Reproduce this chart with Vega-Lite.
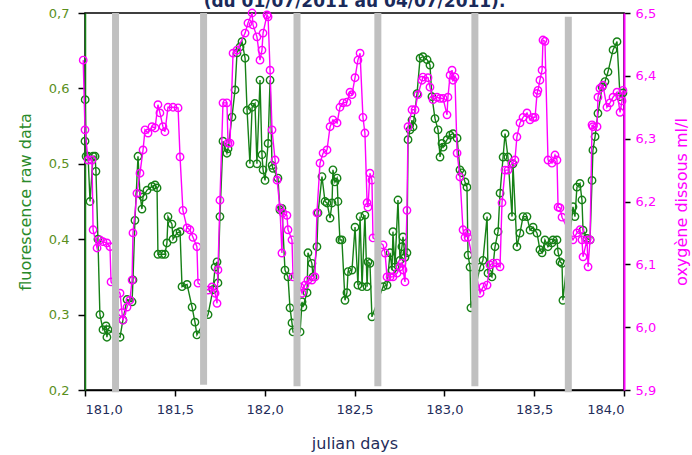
{
  "$schema": "https://vega.github.io/schema/vega-lite/v6.json",
  "width": 539,
  "height": 377,
  "autosize": {"type": "none"},
  "padding": {"left": 85, "top": 13, "right": 68, "bottom": 65},
  "background": "white",
  "title": {
    "text": "(du 01/07/2011 au 04/07/2011).",
    "font": "DejaVu Sans",
    "fontSize": 17,
    "fontWeight": "bold",
    "color": "#1a2a5a",
    "anchor": "middle",
    "baseline": "alphabetic",
    "offset": 0,
    "dy": 18
  },
  "config": {
    "view": {"stroke": "black", "strokeWidth": 1.5},
    "axis": {"grid": false, "labelFont": "DejaVu Sans", "titleFont": "DejaVu Sans", "titleFontWeight": "normal"}
  },
  "datasets": {
    "fluo": [
      {"d":181.000,"v":0.53},{"d":181.001,"v":0.585},{"d":181.006,"v":0.51},{"d":181.017,"v":0.51},{"d":181.028,"v":0.45},{"d":181.045,"v":0.51},{"d":181.056,"v":0.51},{"d":181.061,"v":0.49},{"d":181.072,"v":0.40},{"d":181.083,"v":0.30},{"d":181.100,"v":0.28},{"d":181.117,"v":0.285},{"d":181.122,"v":0.27},{"d":181.128,"v":0.28},
      {"d":181.195,"v":0.27},{"d":181.211,"v":0.293},{"d":181.234,"v":0.32},{"d":181.262,"v":0.317},{"d":181.267,"v":0.346},{"d":181.278,"v":0.425},{"d":181.295,"v":0.51},{"d":181.306,"v":0.46},{"d":181.317,"v":0.44},{"d":181.323,"v":0.456},{"d":181.345,"v":0.465},{"d":181.373,"v":0.47},{"d":181.390,"v":0.472},{"d":181.401,"v":0.468},{"d":181.406,"v":0.38},{"d":181.429,"v":0.38},{"d":181.445,"v":0.38},{"d":181.456,"v":0.395},{"d":181.462,"v":0.43},{"d":181.484,"v":0.42},{"d":181.490,"v":0.40},{"d":181.512,"v":0.408},{"d":181.529,"v":0.41},{"d":181.540,"v":0.337},{"d":181.568,"v":0.34},{"d":181.596,"v":0.31},{"d":181.612,"v":0.29},{"d":181.623,"v":0.273},
      {"d":181.685,"v":0.30},{"d":181.712,"v":0.333},{"d":181.724,"v":0.363},{"d":181.735,"v":0.37},{"d":181.740,"v":0.342},{"d":181.751,"v":0.43},{"d":181.768,"v":0.53},{"d":181.790,"v":0.514},{"d":181.796,"v":0.52},{"d":181.818,"v":0.562},{"d":181.835,"v":0.598},{"d":181.846,"v":0.647},{"d":181.863,"v":0.655},{"d":181.874,"v":0.662},{"d":181.891,"v":0.64},{"d":181.902,"v":0.571},{"d":181.918,"v":0.50},{"d":181.930,"v":0.575},{"d":181.946,"v":0.58},{"d":181.957,"v":0.50},{"d":181.974,"v":0.611},{"d":181.985,"v":0.512},{"d":181.991,"v":0.492},{"d":182.002,"v":0.478},{"d":182.019,"v":0.527},{"d":182.030,"v":0.611},{"d":182.041,"v":0.498},{"d":182.046,"v":0.494},{"d":182.074,"v":0.481},{"d":182.085,"v":0.439},{"d":182.096,"v":0.441},{"d":182.113,"v":0.359},{"d":182.130,"v":0.35},{"d":182.141,"v":0.309},{"d":182.152,"v":0.289},{"d":182.158,"v":0.277},
      {"d":182.197,"v":0.277},{"d":182.208,"v":0.317},{"d":182.213,"v":0.31},{"d":182.236,"v":0.329},{"d":182.241,"v":0.382},{"d":182.263,"v":0.368},{"d":182.269,"v":0.35},{"d":182.291,"v":0.39},{"d":182.297,"v":0.435},{"d":182.319,"v":0.483},{"d":182.336,"v":0.45},{"d":182.347,"v":0.448},{"d":182.364,"v":0.428},{"d":182.375,"v":0.448},{"d":182.380,"v":0.492},{"d":182.391,"v":0.476},{"d":182.403,"v":0.481},{"d":182.408,"v":0.45},{"d":182.419,"v":0.399},{"d":182.430,"v":0.399},{"d":182.447,"v":0.319},{"d":182.458,"v":0.329},{"d":182.464,"v":0.357},{"d":182.486,"v":0.359},{"d":182.503,"v":0.416},{"d":182.519,"v":0.339},{"d":182.531,"v":0.43},{"d":182.542,"v":0.337},{"d":182.558,"v":0.432},{"d":182.570,"v":0.337},{"d":182.575,"v":0.37},{"d":182.586,"v":0.368},{"d":182.597,"v":0.297},
      {"d":182.659,"v":0.337},{"d":182.681,"v":0.339},{"d":182.698,"v":0.382},{"d":182.709,"v":0.359},{"d":182.714,"v":0.41},{"d":182.725,"v":0.363},{"d":182.742,"v":0.452},{"d":182.753,"v":0.372},{"d":182.764,"v":0.39},{"d":182.770,"v":0.403},{"d":182.781,"v":0.376},{"d":182.792,"v":0.382},{"d":182.798,"v":0.532},{"d":182.809,"v":0.545},{"d":182.820,"v":0.558},{"d":182.826,"v":0.549},{"d":182.848,"v":0.593},{"d":182.865,"v":0.64},{"d":182.881,"v":0.642},{"d":182.904,"v":0.638},{"d":182.920,"v":0.631},{"d":182.931,"v":0.589},{"d":182.948,"v":0.56},{"d":182.965,"v":0.545},{"d":182.976,"v":0.509},{"d":182.987,"v":0.527},{"d":182.993,"v":0.522},{"d":183.015,"v":0.532},{"d":183.032,"v":0.538},{"d":183.048,"v":0.54},{"d":183.071,"v":0.534},{"d":183.087,"v":0.492},{"d":183.098,"v":0.488},{"d":183.115,"v":0.476},{"d":183.126,"v":0.469},{"d":183.132,"v":0.379},{"d":183.143,"v":0.363},{"d":183.148,"v":0.309},
      {"d":183.199,"v":0.363},{"d":183.215,"v":0.372},{"d":183.238,"v":0.43},{"d":183.243,"v":0.355},{"d":183.265,"v":0.35},{"d":183.282,"v":0.39},{"d":183.299,"v":0.41},{"d":183.310,"v":0.461},{"d":183.327,"v":0.509},{"d":183.338,"v":0.54},{"d":183.354,"v":0.509},{"d":183.377,"v":0.43},{"d":183.382,"v":0.50},{"d":183.404,"v":0.39},{"d":183.421,"v":0.408},{"d":183.438,"v":0.43},{"d":183.460,"v":0.43},{"d":183.477,"v":0.412},{"d":183.494,"v":0.416},{"d":183.516,"v":0.408},{"d":183.532,"v":0.386},{"d":183.544,"v":0.382},{"d":183.560,"v":0.399},{"d":183.577,"v":0.39},{"d":183.599,"v":0.395},{"d":183.605,"v":0.399},{"d":183.627,"v":0.399},{"d":183.633,"v":0.383},{"d":183.644,"v":0.37},{"d":183.655,"v":0.368},{"d":183.660,"v":0.319},
      {"d":183.716,"v":0.443},{"d":183.727,"v":0.43},{"d":183.738,"v":0.469},{"d":183.755,"v":0.474},{"d":183.766,"v":0.452},{"d":183.772,"v":0.412},{"d":183.794,"v":0.401},{"d":183.811,"v":0.399},{"d":183.822,"v":0.478},{"d":183.827,"v":0.518},{"d":183.839,"v":0.536},{"d":183.855,"v":0.567},{"d":183.878,"v":0.602},{"d":183.894,"v":0.609},{"d":183.911,"v":0.622},{"d":183.939,"v":0.651},{"d":183.961,"v":0.662},{"d":183.978,"v":0.589},{"d":183.994,"v":0.594}
    ],
    "oxy": [
      {"d":180.990,"v":6.425},{"d":181.000,"v":6.314},{"d":181.017,"v":6.266},{"d":181.039,"v":6.266},{"d":181.045,"v":6.155},{"d":181.067,"v":6.126},{"d":181.083,"v":6.139},{"d":181.100,"v":6.136},{"d":181.122,"v":6.134},{"d":181.139,"v":6.128},{"d":181.145,"v":6.072},
      {"d":181.195,"v":6.054},{"d":181.206,"v":6.023},{"d":181.211,"v":6.011},{"d":181.234,"v":6.032},{"d":181.250,"v":6.043},{"d":181.262,"v":6.075},{"d":181.267,"v":6.15},{"d":181.289,"v":6.213},{"d":181.306,"v":6.245},{"d":181.323,"v":6.282},{"d":181.334,"v":6.314},{"d":181.351,"v":6.309},{"d":181.373,"v":6.319},{"d":181.390,"v":6.317},{"d":181.406,"v":6.354},{"d":181.417,"v":6.341},{"d":181.434,"v":6.319},{"d":181.445,"v":6.311},{"d":181.462,"v":6.35},{"d":181.490,"v":6.35},{"d":181.518,"v":6.349},{"d":181.529,"v":6.271},{"d":181.545,"v":6.186},{"d":181.568,"v":6.158},{"d":181.584,"v":6.155},{"d":181.601,"v":6.143},{"d":181.623,"v":6.128},{"d":181.629,"v":6.07},
      {"d":181.685,"v":6.059},{"d":181.707,"v":6.064},{"d":181.724,"v":6.054},{"d":181.735,"v":6.038},{"d":181.740,"v":6.091},{"d":181.751,"v":6.202},{"d":181.768,"v":6.357},{"d":181.790,"v":6.357},{"d":181.796,"v":6.293},{"d":181.807,"v":6.293},{"d":181.824,"v":6.436},{"d":181.846,"v":6.441},{"d":181.891,"v":6.468},{"d":181.907,"v":6.484},{"d":181.930,"v":6.5},{"d":181.935,"v":6.481},{"d":181.957,"v":6.462},{"d":181.974,"v":6.425},{"d":181.985,"v":6.441},{"d":181.991,"v":6.468},{"d":182.013,"v":6.497},{"d":182.019,"v":6.494},{"d":182.030,"v":6.409},{"d":182.041,"v":6.314},{"d":182.058,"v":6.266},{"d":182.069,"v":6.234},{"d":182.085,"v":6.19},{"d":182.096,"v":6.118},{"d":182.102,"v":6.182},{"d":182.124,"v":6.178},{"d":182.130,"v":6.155},{"d":182.152,"v":6.139},{"d":182.158,"v":6.08},
      {"d":182.197,"v":6.064},{"d":182.208,"v":6.054},{"d":182.224,"v":6.067},{"d":182.241,"v":6.075},{"d":182.263,"v":6.075},{"d":182.280,"v":6.08},{"d":182.291,"v":6.182},{"d":182.308,"v":6.261},{"d":182.325,"v":6.277},{"d":182.347,"v":6.282},{"d":182.364,"v":6.319},{"d":182.380,"v":6.33},{"d":182.403,"v":6.325},{"d":182.419,"v":6.35},{"d":182.436,"v":6.357},{"d":182.458,"v":6.358},{"d":182.475,"v":6.374},{"d":182.486,"v":6.37},{"d":182.503,"v":6.397},{"d":182.519,"v":6.425},{"d":182.531,"v":6.436},{"d":182.547,"v":6.334},{"d":182.558,"v":6.309},{"d":182.570,"v":6.198},{"d":182.575,"v":6.191},{"d":182.586,"v":6.245},{"d":182.597,"v":6.234},{"d":182.603,"v":6.142},
      {"d":182.659,"v":6.131},{"d":182.670,"v":6.118},{"d":182.681,"v":6.08},{"d":182.698,"v":6.08},{"d":182.714,"v":6.08},{"d":182.737,"v":6.086},{"d":182.753,"v":6.096},{"d":182.764,"v":6.102},{"d":182.770,"v":6.091},{"d":182.781,"v":6.072},{"d":182.792,"v":6.186},{"d":182.798,"v":6.319},{"d":182.820,"v":6.346},{"d":182.837,"v":6.346},{"d":182.853,"v":6.37},{"d":182.876,"v":6.393},{"d":182.881,"v":6.398},{"d":182.909,"v":6.397},{"d":182.920,"v":6.382},{"d":182.937,"v":6.362},{"d":182.959,"v":6.366},{"d":182.976,"v":6.364},{"d":182.993,"v":6.364},{"d":183.015,"v":6.338},{"d":183.020,"v":6.366},{"d":183.032,"v":6.401},{"d":183.043,"v":6.409},{"d":183.048,"v":6.393},{"d":183.059,"v":6.398},{"d":183.071,"v":6.277},{"d":183.087,"v":6.239},{"d":183.104,"v":6.155},{"d":183.115,"v":6.143},{"d":183.126,"v":6.15},{"d":183.132,"v":6.143},
      {"d":183.199,"v":6.054},{"d":183.215,"v":6.064},{"d":183.238,"v":6.067},{"d":183.254,"v":6.099},{"d":183.271,"v":6.102},{"d":183.293,"v":6.102},{"d":183.310,"v":6.096},{"d":183.321,"v":6.198},{"d":183.338,"v":6.25},{"d":183.354,"v":6.25},{"d":183.377,"v":6.261},{"d":183.393,"v":6.266},{"d":183.404,"v":6.303},{"d":183.421,"v":6.325},{"d":183.438,"v":6.334},{"d":183.460,"v":6.341},{"d":183.477,"v":6.33},{"d":183.494,"v":6.334},{"d":183.505,"v":6.334},{"d":183.516,"v":6.372},{"d":183.521,"v":6.377},{"d":183.532,"v":6.393},{"d":183.544,"v":6.409},{"d":183.549,"v":6.457},{"d":183.560,"v":6.455},{"d":183.577,"v":6.266},{"d":183.599,"v":6.261},{"d":183.616,"v":6.274},{"d":183.627,"v":6.266},{"d":183.633,"v":6.191},{"d":183.644,"v":6.19},{"d":183.655,"v":6.175},
      {"d":183.716,"v":6.139},{"d":183.738,"v":6.15},{"d":183.755,"v":6.155},{"d":183.766,"v":6.139},{"d":183.772,"v":6.112},{"d":183.794,"v":6.139},{"d":183.800,"v":6.096},{"d":183.811,"v":6.139},{"d":183.822,"v":6.322},{"d":183.827,"v":6.319},{"d":183.850,"v":6.319},{"d":183.855,"v":6.366},{"d":183.866,"v":6.38},{"d":183.883,"v":6.385},{"d":183.905,"v":6.35},{"d":183.922,"v":6.357},{"d":183.939,"v":6.366},{"d":183.961,"v":6.374},{"d":183.978,"v":6.342},{"d":183.989,"v":6.36},{"d":183.994,"v":6.377}
    ],
    "bars": [
      {"d":181.170,"top":0.7,"bottom":0.197},
      {"d":181.660,"top":0.7,"bottom":0.207},
      {"d":182.180,"top":0.7,"bottom":0.205},
      {"d":182.630,"top":0.7,"bottom":0.205},
      {"d":183.170,"top":0.7,"bottom":0.205},
      {"d":183.690,"top":0.695,"bottom":0.197}
    ]
  },
  "layer": [
    {
      "data": {"name": "fluo"},
      "encoding": {
        "x": {
          "field": "d", "type": "quantitative",
          "scale": {"domain": [181, 184], "nice": false, "zero": false},
          "axis": {
            "title": "julian days",
            "values": [181, 181.5, 182, 182.5, 183, 183.5, 184],
            "labelExpr": "replace(format(datum.value, '.1f'), '.', ',')",
            "labelFontSize": 13, "labelColor": "#1f2d5a", "labelPadding": 7,
            "titleFontSize": 16, "titleColor": "#1f2d5a", "titlePadding": 19,
            "domainColor": "black", "domainWidth": 1.5,
            "tickColor": "black", "tickSize": 6, "tickWidth": 1.5
          }
        },
        "y": {
          "field": "v", "type": "quantitative",
          "scale": {"domain": [0.2, 0.7], "nice": false, "zero": false},
          "axis": {
            "orient": "left",
            "title": "fluorescence raw data",
            "values": [0.2, 0.3, 0.4, 0.5, 0.6, 0.7],
            "labelExpr": "replace(format(datum.value, '.1f'), '.', ',')",
            "labelFontSize": 13, "labelColor": "#5a8f1c", "labelPadding": 9,
            "titleFontSize": 16, "titleColor": "#2a8a2a", "titlePadding": 15,
            "domainColor": "#138013", "domainWidth": 1.5,
            "tickColor": "black", "tickSize": 7, "tickWidth": 1.5
          }
        }
      },
      "layer": [
        {"mark": {"type": "line", "color": "#168016", "strokeWidth": 1.4}},
        {"mark": {"type": "point", "shape": "circle", "filled": false, "color": "#168016", "size": 55, "strokeWidth": 1.4, "opacity": 1}}
      ]
    },
    {
      "data": {"name": "oxy"},
      "encoding": {
        "x": {"field": "d", "type": "quantitative", "scale": {"domain": [181, 184], "nice": false, "zero": false}},
        "y": {
          "field": "v", "type": "quantitative",
          "scale": {"domain": [5.9, 6.5], "nice": false, "zero": false},
          "axis": {
            "orient": "right",
            "title": "oxygène dissous ml/l",
            "titleAngle": -90,
            "values": [5.9, 6.0, 6.1, 6.2, 6.3, 6.4, 6.5],
            "labelExpr": "replace(format(datum.value, '.1f'), '.', ',')",
            "labelFontSize": 13, "labelColor": "#ff00ff", "labelPadding": 5,
            "titleFontSize": 16, "titleColor": "#ff00ff", "titlePadding": 34,
            "domainColor": "#ff00ff", "domainWidth": 2,
            "tickColor": "black", "tickSize": 6, "tickWidth": 1.5
          }
        }
      },
      "layer": [
        {"mark": {"type": "line", "color": "#ff00ff", "strokeWidth": 1.4}},
        {"mark": {"type": "point", "shape": "circle", "filled": false, "color": "#ff00ff", "size": 55, "strokeWidth": 1.4, "opacity": 1}}
      ]
    },
    {
      "data": {"name": "bars"},
      "mark": {"type": "rule", "color": "#c0c0c0", "strokeWidth": 7},
      "encoding": {
        "x": {"field": "d", "type": "quantitative", "scale": {"domain": [181, 184], "nice": false, "zero": false}},
        "y": {"field": "top", "type": "quantitative", "scale": {"domain": [0.2, 0.7], "nice": false, "zero": false}, "axis": null},
        "y2": {"field": "bottom"}
      }
    }
  ],
  "resolve": {"scale": {"y": "independent"}, "axis": {"y": "independent"}}
}
